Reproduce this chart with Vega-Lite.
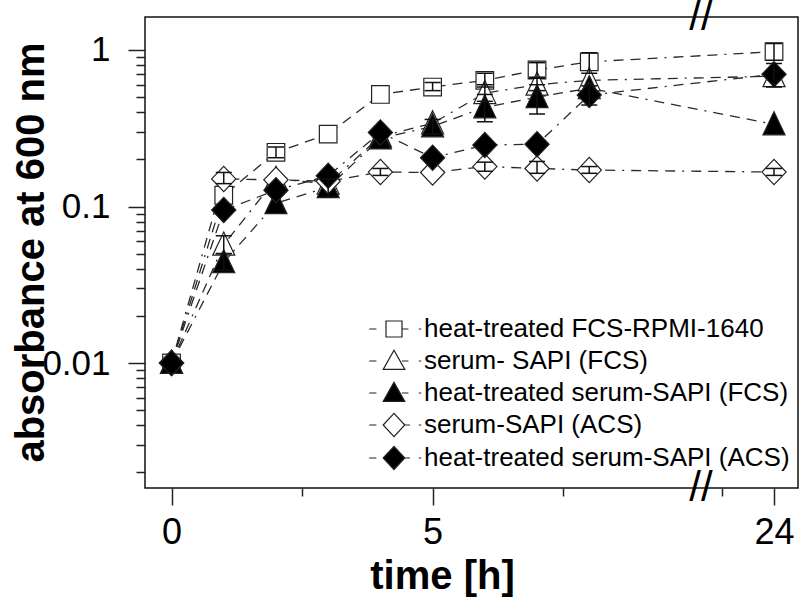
{
  "$schema": "https://vega.github.io/schema/vega-lite/v6.json",
  "width": 653,
  "height": 471,
  "autosize": {"type": "none"},
  "padding": {"left": 145, "top": 17, "right": 2, "bottom": 110},
  "background": "white",
  "config": {
    "view": {"stroke": "#111", "strokeWidth": 1.5},
    "font": "Liberation Sans",
    "axis": {"grid": false, "domain": false, "tickColor": "#222", "tickWidth": 1.5, "labelColor": "black", "titleColor": "black", "labelFont": "Liberation Sans", "titleFont": "Liberation Sans", "labelFlush": false, "labelOverlap": false, "labelBound": false}
  },
  "datasets": {
    "d": [
      {"s": "heat-treated FCS-RPMI-1640", "t": 0, "v": 0.01},
      {"s": "heat-treated FCS-RPMI-1640", "t": 1, "v": 0.118},
      {"s": "heat-treated FCS-RPMI-1640", "t": 2, "v": 0.222, "lo": 0.205, "hi": 0.24},
      {"s": "heat-treated FCS-RPMI-1640", "t": 3, "v": 0.29},
      {"s": "heat-treated FCS-RPMI-1640", "t": 4, "v": 0.52},
      {"s": "heat-treated FCS-RPMI-1640", "t": 5, "v": 0.58, "lo": 0.55, "hi": 0.62},
      {"s": "heat-treated FCS-RPMI-1640", "t": 6, "v": 0.64, "lo": 0.58, "hi": 0.71},
      {"s": "heat-treated FCS-RPMI-1640", "t": 7, "v": 0.745, "lo": 0.67, "hi": 0.83},
      {"s": "heat-treated FCS-RPMI-1640", "t": 8, "v": 0.84, "lo": 0.71, "hi": 0.96},
      {"s": "heat-treated FCS-RPMI-1640", "t": 24, "v": 0.975, "lo": 0.86, "hi": 1.1},
      {"s": "serum- SAPI (FCS)", "t": 0, "v": 0.01},
      {"s": "serum- SAPI (FCS)", "t": 1, "v": 0.057, "lo": 0.05, "hi": 0.065},
      {"s": "serum- SAPI (FCS)", "t": 2, "v": 0.15},
      {"s": "serum- SAPI (FCS)", "t": 3, "v": 0.14},
      {"s": "serum- SAPI (FCS)", "t": 4, "v": 0.28},
      {"s": "serum- SAPI (FCS)", "t": 5, "v": 0.34},
      {"s": "serum- SAPI (FCS)", "t": 6, "v": 0.53, "lo": 0.47, "hi": 0.6},
      {"s": "serum- SAPI (FCS)", "t": 7, "v": 0.6, "lo": 0.55, "hi": 0.66},
      {"s": "serum- SAPI (FCS)", "t": 8, "v": 0.64},
      {"s": "serum- SAPI (FCS)", "t": 24, "v": 0.68},
      {"s": "heat-treated serum-SAPI (FCS)", "t": 0, "v": 0.01},
      {"s": "heat-treated serum-SAPI (FCS)", "t": 1, "v": 0.044, "lo": 0.039, "hi": 0.05},
      {"s": "heat-treated serum-SAPI (FCS)", "t": 2, "v": 0.105},
      {"s": "heat-treated serum-SAPI (FCS)", "t": 3, "v": 0.133, "lo": 0.115, "hi": 0.15},
      {"s": "heat-treated serum-SAPI (FCS)", "t": 4, "v": 0.272},
      {"s": "heat-treated serum-SAPI (FCS)", "t": 5, "v": 0.325, "lo": 0.29, "hi": 0.36},
      {"s": "heat-treated serum-SAPI (FCS)", "t": 6, "v": 0.43, "lo": 0.348, "hi": 0.52},
      {"s": "heat-treated serum-SAPI (FCS)", "t": 7, "v": 0.5, "lo": 0.39, "hi": 0.6},
      {"s": "heat-treated serum-SAPI (FCS)", "t": 8, "v": 0.57},
      {"s": "heat-treated serum-SAPI (FCS)", "t": 24, "v": 0.335},
      {"s": "serum-SAPI (ACS)", "t": 0, "v": 0.01},
      {"s": "serum-SAPI (ACS)", "t": 1, "v": 0.15, "lo": 0.14, "hi": 0.165},
      {"s": "serum-SAPI (ACS)", "t": 2, "v": 0.148},
      {"s": "serum-SAPI (ACS)", "t": 3, "v": 0.145},
      {"s": "serum-SAPI (ACS)", "t": 4, "v": 0.166, "lo": 0.158, "hi": 0.175},
      {"s": "serum-SAPI (ACS)", "t": 5, "v": 0.165},
      {"s": "serum-SAPI (ACS)", "t": 6, "v": 0.18, "lo": 0.168, "hi": 0.192},
      {"s": "serum-SAPI (ACS)", "t": 7, "v": 0.175, "lo": 0.163, "hi": 0.194},
      {"s": "serum-SAPI (ACS)", "t": 8, "v": 0.171, "lo": 0.163, "hi": 0.18},
      {"s": "serum-SAPI (ACS)", "t": 24, "v": 0.166, "lo": 0.158, "hi": 0.175},
      {"s": "heat-treated serum-SAPI (ACS)", "t": 0, "v": 0.01},
      {"s": "heat-treated serum-SAPI (ACS)", "t": 1, "v": 0.095},
      {"s": "heat-treated serum-SAPI (ACS)", "t": 2, "v": 0.127},
      {"s": "heat-treated serum-SAPI (ACS)", "t": 3, "v": 0.157},
      {"s": "heat-treated serum-SAPI (ACS)", "t": 4, "v": 0.297},
      {"s": "heat-treated serum-SAPI (ACS)", "t": 5, "v": 0.205},
      {"s": "heat-treated serum-SAPI (ACS)", "t": 6, "v": 0.247},
      {"s": "heat-treated serum-SAPI (ACS)", "t": 7, "v": 0.25},
      {"s": "heat-treated serum-SAPI (ACS)", "t": 8, "v": 0.515, "lo": 0.445, "hi": 0.59},
      {"s": "heat-treated serum-SAPI (ACS)", "t": 24, "v": 0.7, "lo": 0.58, "hi": 0.82}
    ]
  },
  "data": {"name": "d"},
  "layer": [
    {
      "mark": {"type": "line", "strokeDash": [10, 7, 10, 7, 10, 7, 2, 7], "strokeWidth": 1.3, "color": "#2a2a2a"},
      "encoding": {
        "x": {
          "field": "t", "type": "quantitative",
          "scale": {"domain": [-0.508, 10.14, 22.6, 24.46], "range": [0, 556, 556, 653], "nice": false, "zero": false},
          "axis": {
            "values": [0, 2.5, 5, 7.5, 23, 24],
            "labelExpr": "datum.value == 0 || datum.value == 5 || datum.value == 24 ? datum.label : ''",
            "tickSize": {"condition": {"test": "datum.value == 0 || datum.value == 5 || datum.value == 24", "value": 17}, "value": 8},
            "labelFontSize": 36,
            "labelPadding": 10,
            "title": "time [h]",
            "titleFontSize": 40,
            "titleFontWeight": "bold",
            "titleX": 297,
            "titleY": 100,
            "titleBaseline": "alphabetic",
            "titleAlign": "center"
          }
        },
        "y": {
          "field": "v", "type": "quantitative",
          "scale": {"type": "log", "domain": [0.00159, 1.625], "nice": false},
          "axis": {
            "values": [0.002, 0.003, 0.004, 0.005, 0.006, 0.007, 0.008, 0.009, 0.01, 0.02, 0.03, 0.04, 0.05, 0.06, 0.07, 0.08, 0.09, 0.1, 0.2, 0.3, 0.4, 0.5, 0.6, 0.7, 0.8, 0.9, 1],
            "labelExpr": "datum.value == 1 ? '1' : datum.value == 0.1 ? '0.1' : datum.value == 0.01 ? '0.01' : ''",
            "tickSize": {"condition": {"test": "datum.value == 1 || datum.value == 0.1 || datum.value == 0.01", "value": 17}, "value": 9},
            "labelFontSize": 35,
            "labelPadding": 18,
            "title": "absorbance at 600 nm",
            "titleFontSize": 40,
            "titleFontWeight": "bold",
            "titleX": -114,
            "titleY": 235,
            "titleAngle": 270,
            "titleBaseline": "middle",
            "titleAlign": "center"
          }
        },
        "detail": {"field": "s"}
      }
    },
    {
      "mark": {"type": "point", "filled": true, "opacity": 1, "stroke": "#222", "strokeWidth": 1.2},
      "encoding": {
        "x": {"field": "t", "type": "quantitative"},
        "y": {"field": "v", "type": "quantitative"},
        "shape": {
          "field": "s",
          "scale": {
            "domain": ["heat-treated FCS-RPMI-1640", "serum- SAPI (FCS)", "heat-treated serum-SAPI (FCS)", "serum-SAPI (ACS)", "heat-treated serum-SAPI (ACS)"],
            "range": ["M-0.8,-0.8H0.8V0.8H-0.8Z", "M0,-1.15L1,0.95L-1,0.95Z", "M0,-1.15L1,0.95L-1,0.95Z", "M-1.1,0L0,-1.15L1.1,0L0,1.15Z", "M-1.1,0L0,-1.15L1.1,0L0,1.15Z"]
          },
          "legend": null
        },
        "fill": {
          "field": "s",
          "scale": {
            "domain": ["heat-treated FCS-RPMI-1640", "serum- SAPI (FCS)", "heat-treated serum-SAPI (FCS)", "serum-SAPI (ACS)", "heat-treated serum-SAPI (ACS)"],
            "range": ["white", "white", "black", "white", "black"]
          },
          "legend": null
        },
        "size": {"value": 484}
      }
    },
    {
      "mark": {"type": "point", "filled": true, "opacity": 0, "stroke": "#222", "strokeWidth": 1.2},
      "encoding": {
        "x": {"field": "t", "type": "quantitative"},
        "y": {"field": "v", "type": "quantitative"},
        "shape": {
          "field": "s",
          "scale": {
            "domain": ["heat-treated FCS-RPMI-1640", "serum- SAPI (FCS)", "heat-treated serum-SAPI (FCS)", "serum-SAPI (ACS)", "heat-treated serum-SAPI (ACS)"],
            "range": [
              "M-3.1,0H-2.2M-1,-1H1V1H-1ZM1,0H1.8M3.1,0H3.4",
              "M-3.1,0H-2.2M0,-1.35L1.35,1.05L-1.35,1.05ZM1,0H1.8M3.1,0H3.4",
              "M-3.1,0H-2.2M0,-1.35L1.35,1.05L-1.35,1.05ZM1,0H1.8M3.1,0H3.4",
              "M-3.1,0H-2.2M-1.35,0L0,-1.45L1.35,0L0,1.45ZM1.35,0H2M3.1,0H3.4",
              "M-3.1,0H-2.2M-1.35,0L0,-1.45L1.35,0L0,1.45ZM1.35,0H2M3.1,0H3.4"
            ]
          },
          "legend": {"title": null, "orient": "none", "legendX": 236, "legendY": 299, "symbolSize": 256, "symbolStrokeColor": "#222", "symbolStrokeWidth": 1.2, "symbolOpacity": 1, "labelFont": "Liberation Sans", "labelFontSize": 26, "labelColor": "black", "labelOffset": 17, "rowPadding": 5, "padding": 0, "labelLimit": 600,
            "encode": {"symbols": {"update": {"stroke": {"value": "#222"}, "strokeWidth": {"value": 1.2}, "opacity": {"value": 1}}}}}
        },
        "fill": {
          "field": "s",
          "scale": {
            "domain": ["heat-treated FCS-RPMI-1640", "serum- SAPI (FCS)", "heat-treated serum-SAPI (FCS)", "serum-SAPI (ACS)", "heat-treated serum-SAPI (ACS)"],
            "range": ["white", "white", "black", "white", "black"]
          },
          "legend": {"title": null, "orient": "none", "legendX": 236, "legendY": 299, "symbolSize": 256, "symbolStrokeColor": "#222", "symbolStrokeWidth": 1.2, "symbolOpacity": 1, "labelFont": "Liberation Sans", "labelFontSize": 26, "labelColor": "black", "labelOffset": 17, "rowPadding": 5, "padding": 0, "labelLimit": 600,
            "encode": {"symbols": {"update": {"stroke": {"value": "#222"}, "strokeWidth": {"value": 1.2}, "opacity": {"value": 1}}}}}
        },
        "size": {"value": 256}
      }
    },
    {
      "transform": [{"filter": "datum.lo != null"}],
      "mark": {"type": "rule", "color": "#111", "strokeWidth": 1.5},
      "encoding": {
        "x": {"field": "t", "type": "quantitative"},
        "y": {"field": "lo", "type": "quantitative"},
        "y2": {"field": "hi"}
      }
    },
    {
      "transform": [{"filter": "datum.lo != null"}],
      "mark": {"type": "tick", "orient": "horizontal", "color": "#111", "size": 16, "thickness": 1.5, "opacity": 1},
      "encoding": {
        "x": {"field": "t", "type": "quantitative"},
        "y": {"field": "lo", "type": "quantitative"}
      }
    },
    {
      "transform": [{"filter": "datum.lo != null"}],
      "mark": {"type": "tick", "orient": "horizontal", "color": "#111", "size": 16, "thickness": 1.5, "opacity": 1},
      "encoding": {
        "x": {"field": "t", "type": "quantitative"},
        "y": {"field": "hi", "type": "quantitative"}
      }
    },
    {
      "data": {"values": [{}]},
      "mark": {"type": "text", "text": "//", "fontSize": 42, "font": "Liberation Sans", "color": "black", "baseline": "middle", "align": "center"},
      "encoding": {
        "x": {"datum": 22.6, "type": "quantitative"},
        "y": {"datum": 1.625, "type": "quantitative"}
      }
    },
    {
      "data": {"values": [{}]},
      "mark": {"type": "text", "text": "//", "fontSize": 42, "font": "Liberation Sans", "color": "black", "baseline": "middle", "align": "center"},
      "encoding": {
        "x": {"datum": 22.6, "type": "quantitative"},
        "y": {"datum": 0.00159, "type": "quantitative"}
      }
    }
  ],
  "resolve": {
    "scale": {"shape": "independent", "fill": "independent"},
    "legend": {"shape": "independent", "fill": "independent"}
  }
}
